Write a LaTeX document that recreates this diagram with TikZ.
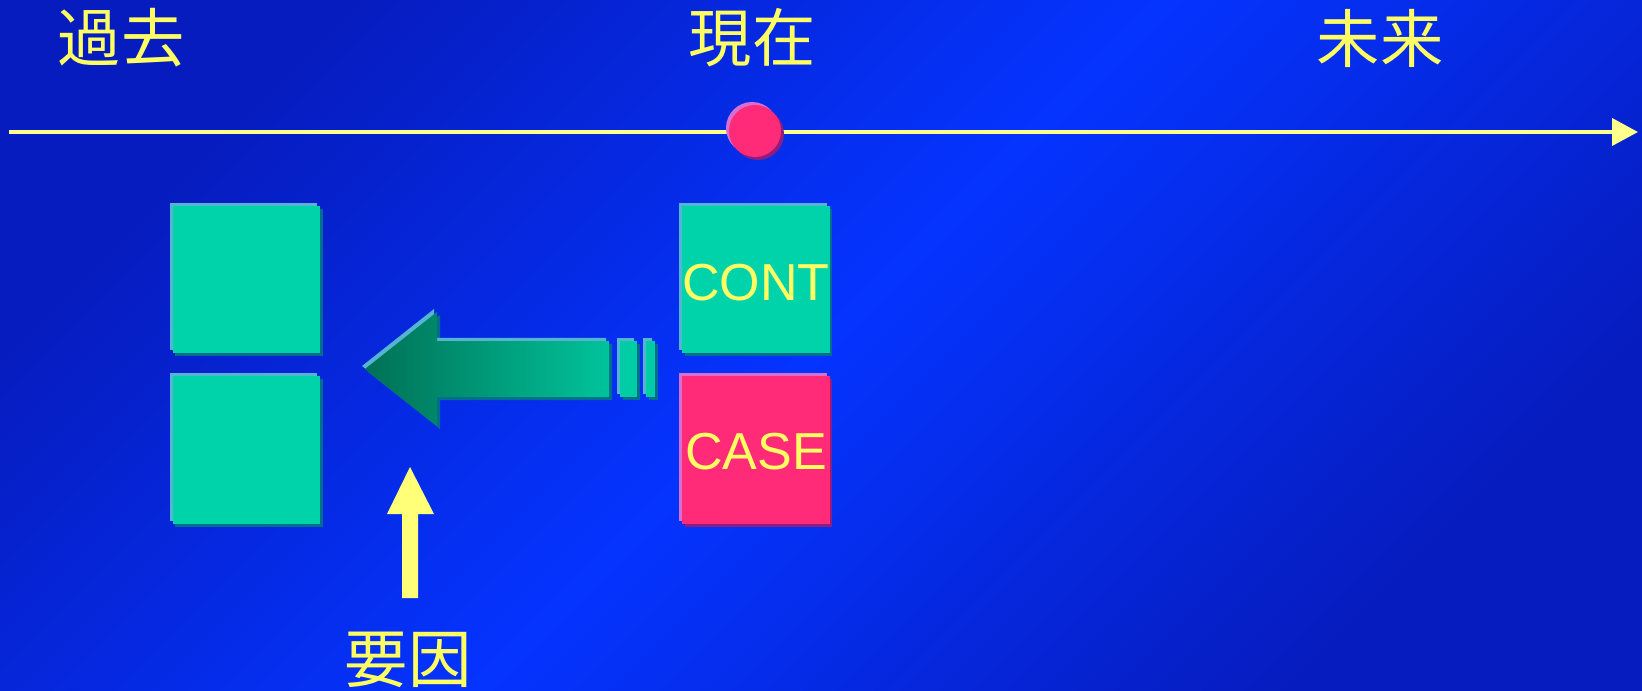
\documentclass[tikz,border=0pt]{standalone}
\usepackage{fontspec}
\setmainfont{Liberation Sans}
\newfontfamily\cjk{Noto Sans CJK JP}
\usetikzlibrary{arrows.meta,shadows}
\definecolor{bgdark}{RGB}{6,28,190}
\definecolor{bgbright}{RGB}{5,52,255}
\definecolor{tealc}{RGB}{0,210,170}
\definecolor{tealhi}{RGB}{85,180,212}
\definecolor{tealsh}{RGB}{0,110,140}
\definecolor{pinkc}{RGB}{255,43,120}
\definecolor{pinkhi}{RGB}{215,110,210}
\definecolor{pinksh}{RGB}{140,30,130}
\definecolor{txtyel}{RGB}{255,255,100}
\definecolor{arryel}{RGB}{255,255,120}
\definecolor{linecol}{RGB}{255,255,140}
\definecolor{arrdark}{RGB}{0,112,85}
\definecolor{arrlight}{RGB}{0,195,155}
\definecolor{barcol}{RGB}{0,205,165}
\begin{document}
\begin{tikzpicture}[x=0.01cm,y=-0.01cm,
  sqbox/.style={rectangle, minimum width=1.47cm, minimum height=1.47cm, inner sep=0pt, draw=none},
  tealbox/.style={sqbox, fill=tealc,
    copy shadow={shadow xshift=0.025cm, shadow yshift=-0.03cm, fill=tealsh, draw=none},
    copy shadow={shadow xshift=-0.03cm, shadow yshift=0.03cm, fill=tealhi, draw=none}},
  pinkbox/.style={sqbox, fill=pinkc,
    copy shadow={shadow xshift=0.025cm, shadow yshift=-0.03cm, fill=pinksh, draw=none},
    copy shadow={shadow xshift=-0.03cm, shadow yshift=0.03cm, fill=pinkhi, draw=none}},
  nowdot/.style={circle, minimum size=0.52cm, inner sep=0pt, fill=pinkc,
    copy shadow={shadow xshift=0.03cm, shadow yshift=-0.03cm, fill=pinksh, draw=none},
    copy shadow={shadow xshift=-0.03cm, shadow yshift=0.03cm, fill=pinkhi, draw=none}},
  cjklbl/.style={text=txtyel, font=\cjk\fontsize{18pt}{21pt}\selectfont, inner sep=0pt},
  boxlbl/.style={text=txtyel, font=\fontsize{14.8pt}{17pt}\selectfont, inner sep=0pt},
  shcopy/.style={fill=tealsh, transform canvas={xshift=0.03cm, yshift=-0.03cm}},
  hicopy/.style={fill=tealhi, transform canvas={xshift=-0.03cm, yshift=0.03cm}},
]
\useasboundingbox (0,0) rectangle (1642,691);
\shade[top color=bgdark, bottom color=bgdark, middle color=bgbright, shading angle=45] (0,0) rectangle (1642,691);

% timeline
\coordinate (tl0) at (9,132);
\coordinate (tl1) at (1638,132);
\draw[line width=0.04cm, linecol, -{Triangle[length=0.26cm,width=0.27cm]}] (tl0) -- (tl1);
\node[nowdot] (now) at (755,131) {};

% labels
\node[cjklbl] (past) at (121,38) {過去};
\node[cjklbl] (present) at (752,38) {現在};
\node[cjklbl] (future) at (1380,38) {未来};
\node[cjklbl] (factor) at (408,660) {要因};

% boxes
\node[tealbox] (pasttop) at (246.5,279.5) {};
\node[tealbox] (pastbot) at (246.5,450) {};
\node[tealbox] (cont) at (756,279.5) {};
\node[pinkbox] (case) at (756,450) {};
\node[boxlbl] (conttxt) at (756,283) {CONT};
\node[boxlbl] (casetxt) at (756,452) {CASE};

% big left arrow
\coordinate (a1) at (365,369);
\coordinate (a2) at (437,312);
\coordinate (a3) at (437,341);
\coordinate (a4) at (609,341);
\coordinate (a5) at (609,397);
\coordinate (a6) at (437,397);
\coordinate (a7) at (437,426);
\fill[shcopy] (a1) -- (a2) -- (a3) -- (a4) -- (a5) -- (a6) -- (a7) -- cycle;
\fill[hicopy] (a1) -- (a2) -- (a3) -- (a4) -- (a5) -- (a6) -- (a7) -- cycle;
\shade[left color=arrdark, right color=arrlight] (a1) -- (a2) -- (a3) -- (a4) -- (a5) -- (a6) -- (a7) -- cycle;
% bars
\coordinate (b1a) at (620,341);
\coordinate (b1b) at (637,397);
\coordinate (b2a) at (646,341);
\coordinate (b2b) at (655,397);
\fill[shcopy] (b1a) rectangle (b1b);
\fill[hicopy] (b1a) rectangle (b1b);
\fill[barcol] (b1a) rectangle (b1b);
\fill[shcopy] (b2a) rectangle (b2b);
\fill[hicopy] (b2a) rectangle (b2b);
\fill[barcol] (b2a) rectangle (b2b);

% yellow up arrow
\coordinate (y1) at (410,467);
\coordinate (y2) at (434,514);
\coordinate (y3) at (418,514);
\coordinate (y4) at (418,598);
\coordinate (y5) at (402,598);
\coordinate (y6) at (402,514);
\coordinate (y7) at (387,514);
\fill[arryel] (y1) -- (y2) -- (y3) -- (y4) -- (y5) -- (y6) -- (y7) -- cycle;
\end{tikzpicture}
\end{document}
